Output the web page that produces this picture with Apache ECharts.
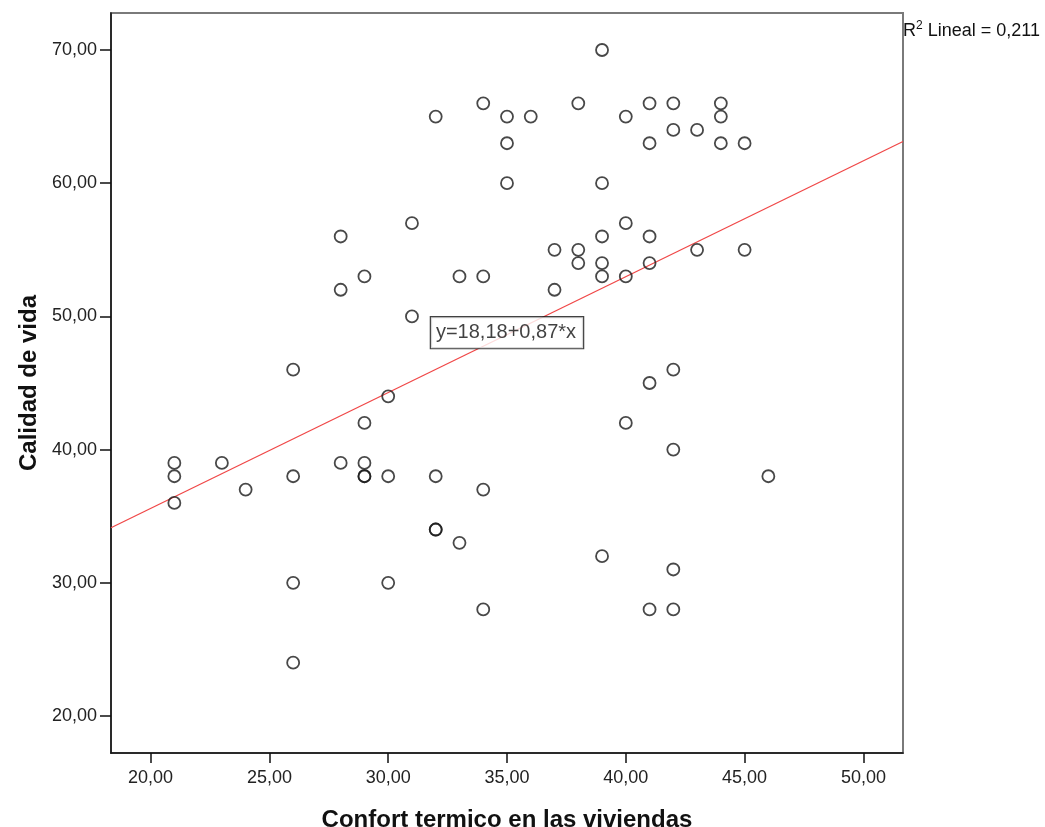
<!DOCTYPE html>
<html>
<head>
<meta charset="utf-8">
<script src="https://cdn.jsdelivr.net/npm/echarts@6/dist/echarts.min.js"></script>
<style>
  html, body { margin: 0; padding: 0; background: #fff; }
  #chart { width: 1045px; height: 827px; }
</style>
</head>
<body>
<div id="chart"></div>
<script>
// ---- Data ----
const confortTermico = [
  39,
  34, 38, 41, 42, 44,
  32, 35, 36, 40, 44,
  42, 43,
  35, 41, 44, 45,
  35, 39,
  31, 40,
  28, 39, 41,
  37, 38, 43, 45,
  38, 39, 41,
  29, 33, 34, 39, 40,
  28, 37,
  31,
  26, 42,
  41,
  30,
  29, 40,
  42,
  21, 23, 28, 29,
  21, 26, 29, 29, 30, 32, 46,
  24, 34,
  21,
  32, 32,
  33,
  39,
  42,
  26, 30,
  34, 41, 42,
  26
];
const calidadVida = [
  70,
  66, 66, 66, 66, 66,
  65, 65, 65, 65, 65,
  64, 64,
  63, 63, 63, 63,
  60, 60,
  57, 57,
  56, 56, 56,
  55, 55, 55, 55,
  54, 54, 54,
  53, 53, 53, 53, 53,
  52, 52,
  50,
  46, 46,
  45,
  44,
  42, 42,
  40,
  39, 39, 39, 39,
  38, 38, 38, 38, 38, 38, 38,
  37, 37,
  36,
  34, 34,
  33,
  32,
  31,
  30, 30,
  28, 28, 28,
  24
];
const xTicks = [20, 25, 30, 35, 40, 45, 50];
const yTicks = [20, 30, 40, 50, 60, 70];
const xRange = [20 - 5 / 3, 50 + 5 / 3];
const yRange = [20 - 25 / 9, 70 + 25 / 9];
const fitIntercept = 18.18;
const fitSlope = 0.87;
const fitLabelX = 35;
const equationText = 'y=18,18+0,87*x';
const r2Text = '0,211';
const xTitle = 'Confort termico en las viviendas';
const yTitle = 'Calidad de vida';

// ---- Build ----
const points = confortTermico.map((x, i) => [x, calidadVida[i]]);
const fitLine = xRange.map(x => [x, fitIntercept + fitSlope * x]);
const fmt = v => v.toFixed(2).replace('.', ',');

const chart = echarts.init(document.getElementById('chart'), null, { renderer: 'canvas' });
const FONT = '"Liberation Sans", Arial, sans-serif';

chart.setOption({
  animation: false,
  backgroundColor: '#ffffff',
  title: {
    text: '{a|R}{s|2}{a| Lineal = ' + r2Text + '}',
    left: 903,
    top: 20,
    padding: 0,
    textStyle: {
      fontWeight: 'normal',
      rich: {
        a: { fontFamily: FONT, fontSize: 18, fontWeight: 'normal', color: '#111', verticalAlign: 'bottom', lineHeight: 20 },
        s: { fontFamily: FONT, fontSize: 12, fontWeight: 'normal', color: '#111', verticalAlign: 'top', lineHeight: 20, padding: [0, 0, 8, 0] }
      }
    }
  },
  grid: {
    left: 111, top: 13, width: 792, height: 740,
    outerBoundsMode: 'none',
    containLabel: false,
    show: true, borderColor: '#7a7a7a', borderWidth: 2, backgroundColor: '#ffffff'
  },
  xAxis: {
    type: 'value',
    min: xRange[0], max: xRange[1],
    splitLine: { show: false },
    axisLine: { show: true, onZero: false, lineStyle: { color: '#111', width: 1.5 } },
    axisTick: { show: true, customValues: xTicks, length: 10, lineStyle: { color: '#111', width: 1.5 } },
    axisLabel: {
      customValues: xTicks, formatter: fmt, margin: 16,
      fontFamily: FONT, fontSize: 18, color: '#222'
    },
    name: xTitle, nameLocation: 'middle', nameGap: 55,
    nameTextStyle: { fontFamily: FONT, fontSize: 24, fontWeight: 'bold', color: '#111' }
  },
  yAxis: {
    type: 'value',
    min: yRange[0], max: yRange[1],
    splitLine: { show: false },
    axisLine: { show: true, onZero: false, lineStyle: { color: '#111', width: 1.5 } },
    axisTick: { show: true, customValues: yTicks, length: 11, lineStyle: { color: '#111', width: 1.5 } },
    axisLabel: {
      customValues: yTicks, formatter: fmt, margin: 14,
      fontFamily: FONT, fontSize: 18, color: '#222'
    },
    name: yTitle, nameLocation: 'middle', nameGap: 69, nameRotate: 90,
    nameTextStyle: { fontFamily: FONT, fontSize: 24, fontWeight: 'bold', color: '#111' }
  },
  series: [
    {
      type: 'line',
      data: fitLine,
      symbol: 'none',
      silent: true,
      lineStyle: { color: '#f04848', width: 1.3 },
      z: 2
    },
    {
      type: 'scatter',
      data: points,
      symbol: 'circle',
      symbolSize: 12,
      itemStyle: { color: 'rgba(255,255,255,0)', borderColor: '#1a1a1a', borderWidth: 1.8 },
      emphasis: { disabled: true },
      z: 3
    },
    {
      type: 'scatter',
      data: [[fitLabelX, fitIntercept + fitSlope * fitLabelX]],
      symbolSize: 0,
      silent: true,
      label: {
        show: true, position: 'inside', offset: [0, -2],
        formatter: equationText,
        fontFamily: FONT, fontSize: 20, color: '#111',
        backgroundColor: '#ffffff', borderColor: '#111', borderWidth: 1.2,
        padding: [6, 7, 5, 5]
      },
      z: 5
    }
  ]
});
</script>
</body>
</html>
